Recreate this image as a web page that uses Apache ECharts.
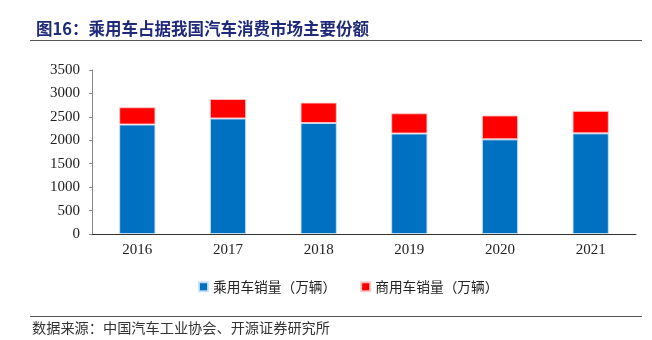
<!DOCTYPE html>
<html><head><meta charset="utf-8">
<script src="https://cdn.jsdelivr.net/npm/echarts@6/dist/echarts.min.js"></script>
<style>html,body{margin:0;padding:0;background:#fff}#c{width:652px;height:340px}</style>
</head><body><div id="c"></div>
<script>
var years = ['2016','2017','2018','2019','2020','2021'];
var passenger = [2336, 2465, 2368, 2144, 2020, 2148];
var commercial = [370, 416, 437, 432, 510, 480];
var yTicks = {min: 0, max: 3500, interval: 500};
var seriesNames = ['乘用车销量（万辆）', '商用车销量（万辆）'];

var chart = echarts.init(document.getElementById('c'));
var cjk = '"Noto Sans CJK SC", sans-serif';
var serif = '"Liberation Serif", "DejaVu Serif", serif';
chart.setOption({
  animation: false,
  title: {
    text: '图16：乘用车占据我国汽车消费市场主要份额',
    left: 31, top: 15,
    textStyle: {fontFamily: cjk, fontSize: 16.5, fontWeight: 'bold', color: '#1F2A7A'}
  },
  graphic: [
    {type: 'line', shape: {x1: 30, y1: 40.5, x2: 642, y2: 40.5}, style: {stroke: '#555', lineWidth: 1}},
    {type: 'line', shape: {x1: 30, y1: 316.5, x2: 642, y2: 316.5}, style: {stroke: '#555', lineWidth: 1}},
    {type: 'text', left: 32, top: 321, style: {text: '数据来源：中国汽车工业协会、开源证券研究所', font: '14.2px ' + cjk, fill: '#333'}}
  ],
  legend: {
    data: seriesNames,
    left: 193, top: 275,
    itemGap: 24,
    icon: 'rect', itemWidth: 9, itemHeight: 9,
    textStyle: {fontFamily: cjk, fontSize: 13.7, color: '#222'}
  },
  grid: {left: 92, right: 16, top: 70, bottom: 106},
  xAxis: {
    type: 'category', data: years,
    axisLine: {lineStyle: {color: '#333'}},
    axisTick: {inside: true, length: 4, lineStyle: {color: '#555'}},
    axisLabel: {fontFamily: serif, fontSize: 15, color: '#222', margin: 9}
  },
  yAxis: {
    type: 'value', min: yTicks.min, max: yTicks.max, interval: yTicks.interval,
    splitLine: {show: false},
    axisLine: {show: true, lineStyle: {color: '#888'}},
    axisTick: {show: true, length: 3, lineStyle: {color: '#888'}},
    axisLabel: {fontFamily: serif, fontSize: 15, color: '#222', margin: 12,
      formatter: function (v) { return String(v); }}
  },
  series: [
    {name: seriesNames[0], type: 'bar', stack: 'a', data: passenger, barWidth: '40%',
     itemStyle: {color: '#0070C0', borderColor: 'rgba(200,225,245,0.9)', borderWidth: 1}},
    {name: seriesNames[1], type: 'bar', stack: 'a', data: commercial, barWidth: '40%',
     itemStyle: {color: '#FF0000', borderColor: 'rgba(255,200,200,0.9)', borderWidth: 1}}
  ]
});
</script></body></html>
